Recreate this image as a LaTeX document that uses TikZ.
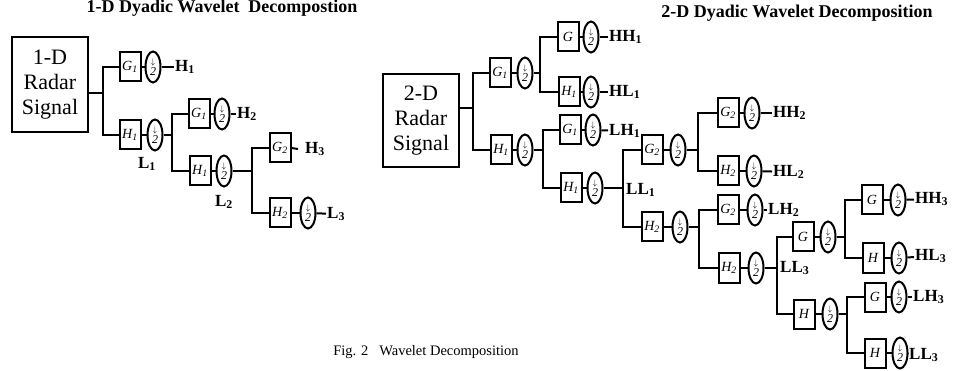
\documentclass[tikz,border=0pt]{standalone}
\usepackage{fontspec}
\setmainfont{Liberation Serif}
\usetikzlibrary{shapes.geometric}
\newcommand\dsym{{\fontsize{12}{12}\selectfont$\stackrel{\scriptstyle\downarrow}{\mathit{2}}$}}
\tikzset{
  wire/.style={line width=2pt},
  filt/.style={draw, line width=2pt, rectangle, minimum width=21pt, minimum height=29pt, inner sep=0pt, font=\fontsize{14}{14}\selectfont\itshape},
  dwn/.style={draw, line width=2pt, ellipse, minimum width=15pt, minimum height=31pt, inner sep=0pt},
  outlbl/.style={font=\fontsize{17}{17}\selectfont\bfseries, inner sep=1pt, anchor=west},
  freelbl/.style={font=\fontsize{17}{17}\selectfont\bfseries, inner sep=1pt},
  sig/.style={draw, line width=2pt, rectangle, align=center, minimum width=76pt, inner sep=0pt, font=\fontsize{22}{25}\selectfont},
  ttl/.style={font=\fontsize{18}{18}\selectfont\bfseries, inner sep=0pt},
  capt/.style={font=\fontsize{14.5}{14.5}\selectfont, inner sep=0pt}
}
\begin{document}
\begin{tikzpicture}[x=1pt,y=-1pt]
\useasboundingbox (0,0) rectangle (955,371);
% titles
\node[ttl] (t1) at (222,8) {1-D Dyadic Wavelet\ \ Decompostion};
\node[ttl] (t2) at (797,13) {2-D Dyadic Wavelet Decomposition};
\node[capt] (cap) at (426,352) {Fig. 2\ \ \ Wavelet Decomposition};

% ---------------- 1-D ----------------
\node[sig, minimum height=95pt] (s1) at (50,84.5) {1-D\\Radar\\Signal};
\coordinate (j1) at (103,93);
\node[filt] (a1) at (130,67) {G\textsubscript{1}};
\node[dwn] (a1d) at (153,67) {\dsym};
\node[outlbl] (a1o) at (174,67) {H\textsubscript{1}};
\node[filt] (b1) at (130,135) {H\textsubscript{1}};
\node[dwn] (b1d) at (155,135) {\dsym};
\coordinate (j2) at (172,135);
\node[freelbl] (l1) at (147,164) {L\textsubscript{1}};
\node[filt] (c1) at (199,114) {G\textsubscript{1}};
\node[dwn] (c1d) at (222,114) {\dsym};
\node[outlbl] (c1o) at (236,114) {H\textsubscript{2}};
\node[filt] (d1) at (200,171) {H\textsubscript{1}};
\node[dwn] (d1d) at (224,171) {\dsym};
\coordinate (j3) at (252,171);
\node[freelbl] (l2) at (224,202) {L\textsubscript{2}};
\node[filt] (e1) at (280,148) {G\textsubscript{2}};
\node[outlbl] (e1o) at (304,149) {H\textsubscript{3}};
\node[filt] (f1) at (280,213) {H\textsubscript{2}};
\node[dwn] (f1d) at (308,213) {\dsym};
\node[outlbl] (f1o) at (326,214) {L\textsubscript{3}};

\draw[wire] (s1.east |- j1) -- (j1);
\draw[wire] (a1.west) -| (j1) |- (b1.west);
\draw[wire] (a1) -- (a1d);
\draw[wire] (a1d) -- (a1o);
\draw[wire] (b1) -- (b1d);
\draw[wire] (b1d) -- (j2);
\draw[wire] (c1.west) -| (j2) |- (d1.west);
\draw[wire] (c1) -- (c1d);
\draw[wire] (c1d) -- (c1o);
\draw[wire] (d1) -- (d1d);
\draw[wire] (d1d) -- (j3);
\draw[wire] (e1.west) -| (j3) |- (f1.west);
\draw[wire] (e1.east) -- ([xshift=-6pt]e1o.west);
\draw[wire] (f1) -- (f1d);
\draw[wire] (f1d) -- (f1o);

% ---------------- 2-D ----------------
\node[sig, minimum height=93pt] (s2) at (421,120.5) {2-D\\Radar\\Signal};
\coordinate (r1) at (473,108);
\node[filt] (p1) at (500,73) {G\textsubscript{1}};
\node[dwn] (p1d) at (525,73) {\dsym};
\coordinate (r2) at (540,73);
\node[filt] (q1) at (568,37) {G};
\node[dwn] (q1d) at (591,37) {\dsym};
\node[outlbl] (q1o) at (608,37) {HH\textsubscript{1}};
\node[filt] (q2) at (569,92) {H\textsubscript{1}};
\node[dwn] (q2d) at (591,92) {\dsym};
\node[outlbl] (q2o) at (608,92) {HL\textsubscript{1}};
\node[filt] (p2) at (501,150) {H\textsubscript{1}};
\node[dwn] (p2d) at (525,150) {\dsym};
\coordinate (r3) at (543,150);
\node[filt] (q3) at (570,130) {G\textsubscript{1}};
\node[dwn] (q3d) at (593,130) {\dsym};
\node[outlbl] (q3o) at (608,131) {LH\textsubscript{1}};
\node[filt] (q4) at (571,188) {H\textsubscript{1}};
\node[dwn] (q4d) at (595,188) {\dsym};
\coordinate (r4) at (623,188);
\node[outlbl] (ll1) at (625,190) {LL\textsubscript{1}};
\node[filt] (u1) at (652,150) {G\textsubscript{2}};
\node[dwn] (u1d) at (678,150) {\dsym};
\coordinate (r5) at (698,150);
\node[filt] (v1) at (728,113) {G\textsubscript{2}};
\node[dwn] (v1d) at (752,113) {\dsym};
\node[outlbl] (v1o) at (772,113) {HH\textsubscript{2}};
\node[filt] (v2) at (728,171) {H\textsubscript{2}};
\node[dwn] (v2d) at (754,171) {\dsym};
\node[outlbl] (v2o) at (772,172) {HL\textsubscript{2}};
\node[filt] (u2) at (652,227) {H\textsubscript{2}};
\node[dwn] (u2d) at (680,227) {\dsym};
\coordinate (r6) at (699,227);
\node[filt] (w1) at (728,210) {G\textsubscript{2}};
\node[dwn] (w1d) at (755,210) {\dsym};
\node[outlbl] (w1o) at (767,210) {LH\textsubscript{2}};
\node[filt] (w2) at (729,268) {H\textsubscript{2}};
\node[dwn] (w2d) at (756,268) {\dsym};
\coordinate (r7) at (777,268);
\node[outlbl] (ll3a) at (779,268) {LL\textsubscript{3}};
\node[filt] (x1) at (803,237) {G};
\node[dwn] (x1d) at (828,237) {\dsym};
\coordinate (r8) at (845,237);
\node[filt] (y1) at (872,200) {G};
\node[dwn] (y1d) at (898,200) {\dsym};
\node[outlbl] (y1o) at (914,199) {HH\textsubscript{3}};
\node[filt] (y2) at (873,258) {H};
\node[dwn] (y2d) at (899,258) {\dsym};
\node[outlbl] (y2o) at (914,256) {HL\textsubscript{3}};
\node[filt] (x2) at (804,314) {H};
\node[dwn] (x2d) at (830,314) {\dsym};
\coordinate (r9) at (847,314);
\node[filt] (y3) at (875,297) {G};
\node[dwn] (y3d) at (899,297) {\dsym};
\node[outlbl] (y3o) at (912,297) {LH\textsubscript{3}};
\node[filt] (y4) at (875,353) {H};
\node[dwn] (y4d) at (900,353) {\dsym};
\node[outlbl] (y4o) at (908,355) {LL\textsubscript{3}};

\draw[wire] (s2.east |- r1) -- (r1);
\draw[wire] (p1.west) -| (r1) |- (p2.west);
\draw[wire] (p1) -- (p1d);
\draw[wire] (p1d) -- (r2);
\draw[wire] (q1.west) -| (r2) |- (q2.west);
\draw[wire] (q1) -- (q1d);
\draw[wire] (q1d) -- (q1o);
\draw[wire] (q2) -- (q2d);
\draw[wire] (q2d) -- (q2o);
\draw[wire] (p2) -- (p2d);
\draw[wire] (p2d) -- (r3);
\draw[wire] (q3.west) -| (r3) |- (q4.west);
\draw[wire] (q3) -- (q3d);
\draw[wire] (q3d) -- (q3o);
\draw[wire] (q4) -- (q4d);
\draw[wire] (q4d) -- (r4);
\draw[wire] (u1.west) -| (r4) |- (u2.west);
\draw[wire] (u1) -- (u1d);
\draw[wire] (u1d) -- (r5);
\draw[wire] (v1.west) -| (r5) |- (v2.west);
\draw[wire] (v1) -- (v1d);
\draw[wire] (v1d) -- (v1o);
\draw[wire] (v2) -- (v2d);
\draw[wire] (v2d) -- (v2o);
\draw[wire] (u2) -- (u2d);
\draw[wire] (u2d) -- (r6);
\draw[wire] (w1.west) -| (r6) |- (w2.west);
\draw[wire] (w1) -- (w1d);
\draw[wire] (w1d) -- (w1o);
\draw[wire] (w2) -- (w2d);
\draw[wire] (w2d) -- (r7);
\draw[wire] (x1.west) -| (r7) |- (x2.west);
\draw[wire] (x1) -- (x1d);
\draw[wire] (x1d) -- (r8);
\draw[wire] (y1.west) -| (r8) |- (y2.west);
\draw[wire] (y1) -- (y1d);
\draw[wire] (y1d) -- (y1o);
\draw[wire] (y2) -- (y2d);
\draw[wire] (y2d) -- (y2o);
\draw[wire] (x2) -- (x2d);
\draw[wire] (x2d) -- (r9);
\draw[wire] (y3.west) -| (r9) |- (y4.west);
\draw[wire] (y3) -- (y3d);
\draw[wire] (y3d) -- (y3o);
\draw[wire] (y4) -- (y4d);
\draw[wire] (y4d) -- (y4o);
\end{tikzpicture}
\end{document}
